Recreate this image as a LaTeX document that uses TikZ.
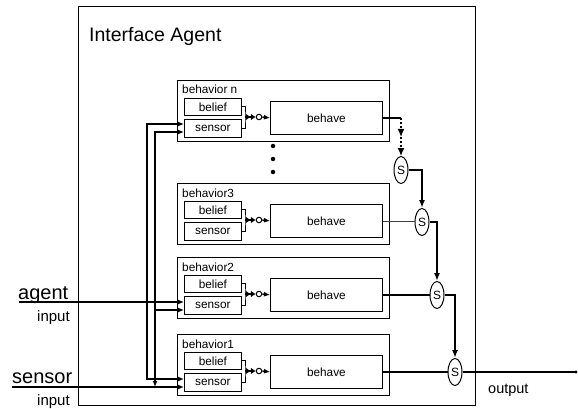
\documentclass[tikz,border=0pt]{standalone}
\usepackage{fontspec}
\setmainfont{Liberation Sans}
\usetikzlibrary{arrows.meta,shapes.geometric}

\tikzset{
  box/.style={draw, line width=0.8pt, inner sep=0pt, anchor=north west},
  lbl/.style={inner sep=0pt, font=\fontsize{11.8}{13}\selectfont},
  conn/.style={line width=1.4pt},
  thinconn/.style={line width=0.6pt, black!75},
  feed/.style={line width=1.3pt, -{Latex[length=6pt,width=5pt]}},
  busfeed/.style={line width=1.2pt, {Latex[length=6pt,width=5pt]}-{Latex[length=6pt,width=5pt]}},
  chain/.style={line width=1.7pt, -{Latex[length=8pt,width=6pt]}},
  dashfeed/.style={line width=1.3pt, dashed, dash pattern=on 2pt off 2pt, -{Latex[length=8pt,width=7pt]}},
  merge/.style={line width=1.5pt, -{Latex[length=5pt,width=7pt]Latex[length=5pt,width=7pt]}},
  knot/.style={draw, circle, line width=1pt, minimum size=5.5pt, inner sep=0pt},
  supp/.style={draw, ellipse, line width=1pt, minimum width=14pt, minimum height=27pt,
               inner sep=0pt, fill=white, font=\fontsize{12}{12}\selectfont},
  dotmark/.style={circle, fill, minimum size=4.5pt, inner sep=0pt},
  big/.style={inner sep=0pt, anchor=base west, font=\fontsize{20}{22}\selectfont},
  small/.style={inner sep=0pt, anchor=base west, font=\fontsize{15}{17}\selectfont},
}

% one behaviour module: name, caption, top edge
\newcommand\behaviorunit[3]{%
  \node[box, minimum width=212pt, minimum height=61pt] (#1) at (177,#3) {};
  \node[lbl, anchor=base west] (#1-lbl) at (182,{#3+14}) {#2};
  \node[box, minimum width=57pt, minimum height=17pt] (#1-belief) at (184,{#3+18}) {};
  \node[lbl] at (#1-belief.center) {belief};
  \node[box, minimum width=57pt, minimum height=18pt] (#1-sensor) at (184,{#3+39}) {};
  \node[lbl] at (#1-sensor.center) {sensor};
  \node[box, minimum width=112pt, minimum height=33pt] (#1-behave) at (270,{#3+21}) {};
  \node[lbl] at (#1-behave.center) {behave};
  \coordinate (#1-j) at (245,{#3+37});
  \node[knot] (#1-m) at (259,{#3+37}) {};
  \draw[line width=1pt] (#1-belief.east) -| (#1-j) |- (#1-sensor.east);
  \draw[merge] (#1-j) -- (#1-m.west);
  \draw[feed] (#1-m.east) -- (#1-behave.west);
}

\begin{document}
\begin{tikzpicture}[x=1pt, y=-1pt]
\useasboundingbox (0,0) rectangle (578,409);

% the agent frame
\node[box, line width=0.8pt, minimum width=397pt, minimum height=399pt] (agent) at (78,6) {};
\node[inner sep=0pt, anchor=base west, font=\fontsize{19.5}{22}\selectfont] (title) at (89,42) {Interface Agent};

% behaviour modules
\behaviorunit{Bn}{behavior n}{80}
\behaviorunit{B3}{behavior3}{183}
\behaviorunit{B2}{behavior2}{257}
\behaviorunit{B1}{behavior1}{334}

% vertical ellipsis between the upper modules
\node[dotmark] (vd1) at (273,146) {};
\node[dotmark] (vd2) at (273,159) {};
\node[dotmark] (vd3) at (273,172) {};

% external inputs
\node[big] (agentlbl) at (18,299) {agent};
\node[small] (agentin) at (37,321) {input};
\node[big] (sensorlbl) at (12,383) {sensor};
\node[small] (sensorin) at (37,405) {input};

\coordinate (aIn) at (19,302);
\coordinate (sIn) at (12,387);
\coordinate (Ltop) at (147,124);
\coordinate (Lbot) at (147,379);
\coordinate (Rtop) at (155,132);
\coordinate (Rmid) at (155,310);
\coordinate (Rbot) at (155,387);

% agent input bus
\draw[feed] (aIn) -- (B2-sensor.west |- aIn);
\draw[busfeed] (Bn-sensor.west |- Ltop) -- (Ltop) -- (Lbot) -- (B1-sensor.west |- Lbot);

% sensor input bus
\draw[feed] (sIn) -- (B1-sensor.west |- sIn);
\draw[busfeed] (Bn-sensor.west |- Rtop) -- (Rtop) -- (Rbot);
\draw[feed] (Rmid) -- (B2-sensor.west |- Rmid);

% suppressor nodes
\node[supp] (Sn) at (401,170) {S};
\node[supp] (S3) at (422,222) {S};
\node[supp] (S2) at (437,295) {S};
\node[supp] (S1) at (455,372) {S};

% behaviour outputs into the suppressors
\coordinate (dn) at (Bn-behave.east -| Sn.north);
\path (dn) -- (Sn.north) coordinate[pos=0.5] (dm);
\draw[conn] (Bn-behave.east) -- (dn);
\draw[dashfeed] (dn) -- (dm);
\draw[dashfeed] (dm) -- (Sn.north);
\draw[thinconn] (B3-behave.east) -- (B3-behave.east -| S3.west);
\draw[conn] (B2-behave.east) -- (B2-behave.east -| S2.west);
\draw[conn] (B1-behave.east) -- (B1-behave.east -| S1.west);

% suppression chain
\draw[chain] (Sn.east) -| (S3.north);
\draw[chain] (S3.east) -| (S2.north);
\draw[chain] (S2.east) -| (S1.north);

% output
\coordinate (out) at (576,372);
\draw[conn] (S1.east) -- (out);
\fill (out) circle (1.6);
\node[small, font=\fontsize{14.5}{16}\selectfont] (outlbl) at (488,393) {output};
\end{tikzpicture}
\end{document}
